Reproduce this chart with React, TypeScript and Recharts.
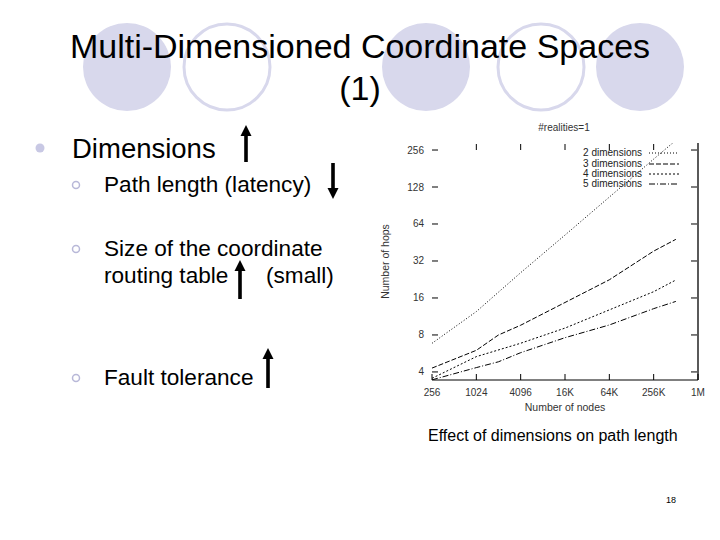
import { LineChart, Line, XAxis, YAxis, Legend } from 'recharts';

// number of nodes on the x axis
const nodes = [256, 1024, 2048, 4096, 16384, 65536, 262144, 524288];

// number of hops (null = no point there)
const dims2 = [6.84, 12.4, null, 25.7, 52, 106, 216, 307];
const dims3 = [4.3, 6.0, 8.0, 9.6, 14.7, 22.5, 38.5, 48];
const dims4 = [3.55, 5.33, null, 6.85, 9.1, 12.8, 18, 22.4];
const dims5 = [3.45, 4.34, 4.84, 5.74, 7.6, 9.65, 13.1, 15];

const xTicks = [256, 1024, 4096, 16384, 65536, 262144, 1048576];
const xTickLabels = ['256', '1024', '4096', '16K', '64K', '256K', '1M'];
const yTicks = [4, 8, 16, 32, 64, 128, 256];

const series = [
  { key: 'd2', name: '2 dimensions', dash: '1 2' },
  { key: 'd3', name: '3 dimensions', dash: '5 2' },
  { key: 'd4', name: '4 dimensions', dash: '2 2' },
  { key: 'd5', name: '5 dimensions', dash: '6 2 1 2' },
];

const data = nodes.map((n, i) => ({ n, d2: dims2[i], d3: dims3[i], d4: dims4[i], d5: dims5[i] }));

const FONT = '"Liberation Sans", Arial, sans-serif';
const LAV = '#d8d8ec';
const MARGIN = { top: 32, right: 16, bottom: 30, left: 32 };
const CH_W = 360;
const CH_H = 330;

const XTick = ({ x, y, payload }: any) => {
  const idx = xTicks.indexOf(payload.value);
  const cx = Number(x);
  const cy = Number(y);
  return (
    <g>
      <line x1={cx} x2={cx} y1={cy} y2={cy - 6} stroke="#000" />
      <text x={cx} y={cy + 16} textAnchor="middle" fontSize={10} fill="#333" fontFamily={FONT}>
        {xTickLabels[idx]}
      </text>
    </g>
  );
};

const TopTick = ({ x, y }: any) => (
  <line x1={Number(x)} x2={Number(x)} y1={Number(y) + 1} y2={Number(y) + 7} stroke="#000" />
);

const YTick = ({ x, y, payload }: any) => {
  const cx = Number(x);
  const cy = Number(y);
  return (
    <g>
      <line x1={cx} x2={cx + 6} y1={cy} y2={cy} stroke="#000" />
      <text x={cx - 8} y={cy + 3.5} textAnchor="end" fontSize={10} fill="#333" fontFamily={FONT}>
        {payload.value}
      </text>
    </g>
  );
};

// right border ticks point inward (to the left of the axis line)
const RightTick = ({ x, y }: any) => {
  const cx = Number(x);
  const cy = Number(y);
  return <line x1={cx - 7} x2={cx - 1} y1={cy} y2={cy} stroke="#000" />;
};

const LegendBox = () => (
  <div style={{ fontFamily: FONT, fontSize: 10, color: '#222' }}>
    {series.map((s) => (
      <div key={s.key} style={{ display: 'flex', alignItems: 'center', height: 10.4 }}>
        <span style={{ width: 92, textAlign: 'right', lineHeight: '10px' }}>{s.name}</span>
        <svg width={40} height={10} style={{ marginLeft: 7 }}>
          <line x1={0} x2={30} y1={5} y2={5} stroke="#000" strokeDasharray={s.dash} />
        </svg>
      </div>
    ))}
  </div>
);

const Arrow = ({ x, y1, y2, up }: { x: number; y1: number; y2: number; up: boolean }) => {
  const head = 11;
  const tipY = up ? y1 : y2;
  const baseY = up ? y1 + head : y2 - head;
  return (
    <g>
      <rect x={x - 1.8} y={up ? baseY : y1} width={3.6} height={y2 - y1 - head} fill="#000" />
      <polygon points={`${x},${tipY} ${x - 5.5},${baseY} ${x + 5.5},${baseY}`} fill="#000" />
    </g>
  );
};

export default function App() {
  return (
    <div style={{ position: 'absolute', left: 0, top: 0, width: 720, height: 540, background: '#fff', overflow: 'hidden' }}>
      <svg width={720} height={540} style={{ position: 'absolute', left: 0, top: 0 }}>
        <circle cx={127} cy={67} r={44} fill={LAV} />
        <circle cx={227} cy={67} r={43} fill="none" stroke={LAV} strokeWidth={3} />
        <circle cx={426} cy={67} r={44} fill={LAV} />
        <circle cx={541} cy={67} r={43} fill="none" stroke={LAV} strokeWidth={3} />
        <circle cx={640} cy={67} r={44} fill={LAV} />
        <text x={360} y={58} textAnchor="middle" fontSize={34} fontFamily={FONT} fill="#000">
          Multi-Dimensioned Coordinate Spaces
        </text>
        <text x={360} y={100} textAnchor="middle" fontSize={34} fontFamily={FONT} fill="#000">
          (1)
        </text>

        <circle cx={40} cy={148} r={4.5} fill="#c8c8e4" />
        <text x={72} y={158} fontSize={27.5} fontFamily={FONT} fill="#000">Dimensions</text>
        <Arrow x={246} y1={125} y2={162} up />

        <circle cx={76} cy={185} r={3.5} fill="none" stroke="#b8b8d8" strokeWidth={1.5} />
        <text x={104} y={192} fontSize={22.6} fontFamily={FONT} fill="#000">Path length (latency)</text>
        <Arrow x={333} y1={163} y2={199} up={false} />

        <circle cx={76} cy={249} r={3.5} fill="none" stroke="#b8b8d8" strokeWidth={1.5} />
        <text x={104} y={256} fontSize={22.6} fontFamily={FONT} fill="#000">Size of the coordinate</text>
        <text x={104} y={283} fontSize={22.6} fontFamily={FONT} fill="#000">routing table</text>
        <text x={266} y={283} fontSize={22.6} fontFamily={FONT} fill="#000">(small)</text>
        <Arrow x={240} y1={260} y2={299} up />

        <circle cx={76} cy={378} r={3.5} fill="none" stroke="#b8b8d8" strokeWidth={1.5} />
        <text x={104} y={385} fontSize={22.6} fontFamily={FONT} fill="#000">Fault tolerance</text>
        <Arrow x={268} y1={348} y2={388} up />

        <text x={564} y={131} textAnchor="middle" fontSize={10} fontFamily={FONT} fill="#333">#realities=1</text>
        <text x={428} y={441} fontSize={16} fontFamily={FONT} fill="#000">Effect of dimensions on path length</text>
        <text x={666} y={503} fontSize={9} fontFamily={FONT} fill="#000">18</text>
      </svg>

      <div style={{ position: 'absolute', left: 360, top: 110 }}>
        <LineChart width={CH_W} height={CH_H} data={data} margin={MARGIN}>
          <XAxis
            dataKey="n"
            type="number"
            scale="log"
            domain={[256, 1048576]}
            ticks={xTicks}
            interval={0}
            allowDataOverflow
            tickSize={0}
            tickMargin={0}
            tick={<XTick />}
            axisLine={{ stroke: '#000' }}
            height={30}
            label={{ value: 'Number of nodes', position: 'insideBottom', offset: -1, fontSize: 10.5, fill: '#333', fontFamily: FONT }}
          />
          <XAxis
            xAxisId="top"
            dataKey="n"
            orientation="top"
            type="number"
            scale="log"
            domain={[256, 1048576]}
            ticks={xTicks.slice(1, 6)}
            interval={0}
            allowDataOverflow
            tickSize={0}
            tickMargin={0}
            tick={<TopTick />}
            axisLine={false}
            height={1}
          />
          <YAxis
            type="number"
            scale="log"
            domain={[3.44, 292]}
            ticks={yTicks}
            interval={0}
            allowDataOverflow
            tickSize={0}
            tickMargin={0}
            tick={<YTick />}
            axisLine={false}
            width={40}
            label={{ value: 'Number of hops', angle: -90, position: 'insideLeft', offset: -7, fontSize: 10.5, fill: '#333', fontFamily: FONT, style: { textAnchor: 'middle' } }}
          />
          <YAxis
            yAxisId="right"
            orientation="right"
            type="number"
            scale="log"
            domain={[3.44, 292]}
            ticks={yTicks}
            interval={0}
            allowDataOverflow
            tickSize={0}
            tickMargin={0}
            tick={<RightTick />}
            axisLine={{ stroke: '#000', strokeWidth: 1.3 }}
            width={6}
          />
          <Legend
            layout="vertical"
            align="center"
            verticalAlign="middle"
            wrapperStyle={{ top: 38, left: 190, width: 145 }}
            content={<LegendBox />}
          />
          {series.map((s) => (
            <Line
              key={s.key}
              dataKey={s.key}
              name={s.name}
              type="linear"
              stroke="#000"
              strokeWidth={1}
              strokeDasharray={s.dash}
              dot={false}
              connectNulls
              isAnimationActive={false}
            />
          ))}
          {/* invisible copy so the top and right border axes are active */}
          <Line
            xAxisId="top"
            yAxisId="right"
            dataKey="d5"
            stroke="none"
            dot={false}
            activeDot={false}
            legendType="none"
            isAnimationActive={false}
          />
        </LineChart>
      </div>
    </div>
  );
}
